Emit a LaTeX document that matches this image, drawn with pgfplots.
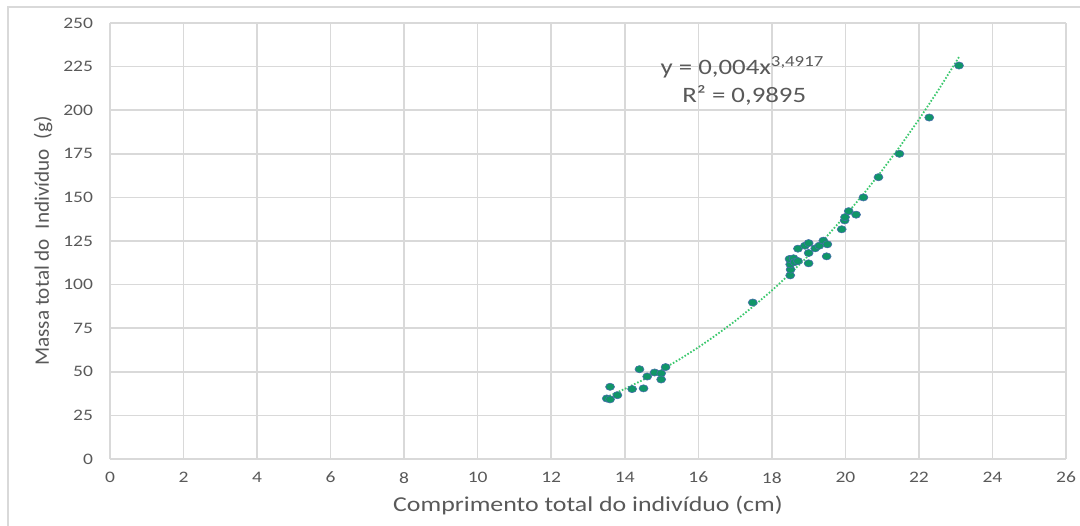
\documentclass[border=0pt]{standalone}
\usepackage{fontspec}
\setmainfont{Carlito}[FakeStretch=1.22]
\newfontfamily\plainfont{Carlito}[FakeStretch=1.03]
\usepackage{pgfplots}
\pgfplotsset{compat=1.18}

\definecolor{gridgray}{RGB}{217,217,217}
\definecolor{txtgray}{RGB}{89,89,89}
\definecolor{dotfill}{RGB}{16,150,104}
\definecolor{dotedge}{RGB}{70,110,170}
\definecolor{trend}{RGB}{60,200,110}

\begin{document}
\begin{tikzpicture}[x=1pt,y=1pt]
% 1 px of the reference = 0.5pt
\useasboundingbox (-55pt,-33pt) rectangle (485pt,229.5pt);
\draw[gridgray, line width=0.7pt] (-51pt,-60pt) rectangle (500pt,226pt);
\begin{axis}[
    at={(0,0)}, anchor=origin,
    width=478pt, height=218pt,
    scale only axis,
    xmin=0, xmax=26, ymin=0, ymax=250,
    xtick={0,2,...,26},
    ytick={0,25,...,250},
    grid=major,
    grid style={gridgray, line width=0.8pt},
    axis line style={gridgray, line width=0.8pt},
    axis x line*=bottom, axis y line*=left,
    y axis line style={draw=none},
    tick style={draw=none},
    /pgf/number format/assume math mode=true,
    tick label style={font=\fontsize{8}{9}\selectfont, text=txtgray},
    xticklabel style={yshift=-3pt},
    yticklabel style={xshift=-5pt},
    xlabel={Comprimento total do indivíduo (cm)},
    ylabel={Massa total do\ \ Indivíduo\ \ (g)},
    xlabel style={font=\fontsize{10.6}{12}\selectfont, text=txtgray, at={(axis description cs:0.5,0)}, anchor=center, yshift=-23pt},
    ylabel style={font=\plainfont\fontsize{10.3}{12}\selectfont, text=txtgray, at={(axis description cs:0,0.5)}, anchor=center, yshift=33.5pt},
    clip=false,
]
% power trend line, y = 0,004 x^3,4917
\addplot[trend, line width=0.9pt, dash pattern=on 0.8pt off 0.9pt] coordinates {
    (13.5,35.4) (14,40.2) (14.5,45.4) (15,51.1) (15.5,57.3) (16,64.0)
    (16.5,71.3) (17,79.1) (17.5,87.6) (18,96.6) (18.5,106.3) (19,116.7)
    (19.5,127.8) (20,139.6) (20.5,152.1) (21,165.5) (21.5,179.7)
    (22,194.7) (22.5,210.6) (23,227.4) (23.1,230.9)
};
% individuals
\addplot[only marks, mark=*, mark size=1.8pt,
    mark options={fill=dotfill, draw=dotedge, line width=0.3pt, xscale=1.25}]
coordinates {
    (13.51,34.7) (13.60,34.2) (13.60,41.4) (13.80,36.6) (14.20,40.1)
    (14.40,51.5) (14.51,40.5) (14.61,47.3) (14.81,49.6) (14.99,49.1)
    (14.99,45.6) (15.11,52.7)
    (17.48,89.7)
    (18.50,105.3) (18.51,108.6) (18.50,111.6) (18.48,114.7) (18.59,115.1)
    (18.62,112.9) (18.71,113.5) (18.71,120.6) (18.90,122.3) (19.00,123.8)
    (19.00,118.1) (19.00,112.2) (19.18,120.8) (19.29,122.3) (19.40,125.2)
    (19.51,123.1) (19.49,116.2)
    (19.90,131.7) (19.98,136.8) (19.99,138.7) (20.09,142.1) (20.29,140.1)
    (20.49,150.0) (20.90,161.6) (21.47,175.0) (22.28,195.8) (23.09,225.6)
};
\node[text=txtgray, font=\fontsize{11}{13}\selectfont, anchor=base] at (axis cs:17.2,220.5)
    {y = 0,004x\textsuperscript{3,4917}};
\node[text=txtgray, font=\fontsize{11}{13}\selectfont, anchor=base] at (axis cs:17.25,204.5)
    {R² = 0,9895};
\end{axis}
\end{tikzpicture}
\end{document}
